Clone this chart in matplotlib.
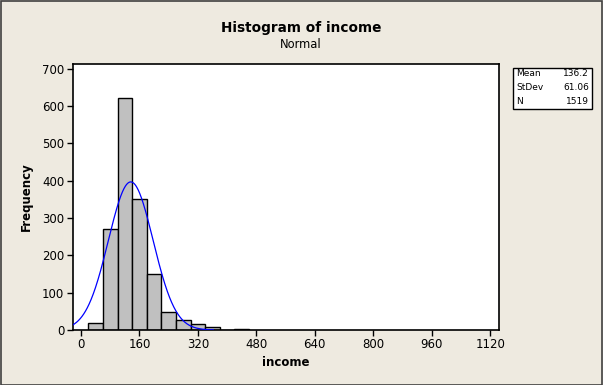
import numpy as np
import matplotlib
matplotlib.use('Agg')
import matplotlib.pyplot as plt
from matplotlib.patches import Rectangle

# Histogram counts (bins of width 40)
bin_edges = [20, 60, 100, 140, 180, 220, 260, 300, 340, 380, 420, 460]
counts = [20, 272, 622, 352, 150, 48, 28, 16, 8, 0, 3]
mean = 136.2
stdev = 61.06
n_obs = 1519
x_ticks = [0, 160, 320, 480, 640, 800, 960, 1120]
y_ticks = [0, 100, 200, 300, 400, 500, 600, 700]

bg = '#EEEAE0'
W, H = 603, 385

fig = plt.figure(figsize=(W / 100, H / 100), dpi=100, facecolor=bg)
ax = fig.add_axes([72.7 / W, 1 - 330 / H, (499.3 - 72.7) / W, (330 - 64) / H])
ax.set_facecolor('white')

widths = np.diff(bin_edges)
ax.bar(bin_edges[:-1], counts, width=widths, align='edge',
       color='#C0C0C0', edgecolor='black', linewidth=1.0, zorder=2)

# fitted normal curve, scaled to the counts
bw = 40
xs = np.linspace(-30, mean + 3.7 * stdev, 400)
ys = n_obs * bw / (stdev * np.sqrt(2 * np.pi)) * np.exp(-0.5 * ((xs - mean) / stdev) ** 2)
ax.plot(xs, ys, color='#0000FF', linewidth=0.9, zorder=3)

ax.set_xlim(-22.7, 1145)
ax.set_ylim(0, 713)
ax.set_xticks(x_ticks)
ax.set_yticks(y_ticks)
ax.tick_params(direction='out', length=4, width=1, labelsize=8.5, colors='black', pad=2)
for s in ax.spines.values():
    s.set_linewidth(1.2)

ax.set_xlabel('income', fontsize=8.5, fontweight='bold', labelpad=3)
ax.set_ylabel('Frequency', fontsize=8.5, fontweight='bold', labelpad=7)

fig.text(301 / W, 1 - 28 / H, 'Histogram of income', ha='center', va='center',
         fontsize=9.8, fontweight='bold')
fig.text(301 / W, 1 - 44 / H, 'Normal', ha='center', va='center', fontsize=8.3)

# stats box
box = Rectangle((512.7 / W, 1 - 109.3 / H), (592.3 - 512.7) / W, (109.3 - 68.3) / H,
                transform=fig.transFigure, facecolor='white', edgecolor='black', linewidth=1)
fig.patches.append(box)
rows = [('Mean', f'{mean}'), ('StDev', f'{stdev}'), ('N', f'{n_obs}')]
for i, (k, v) in enumerate(rows):
    yy = 1 - (74 + i * 14) / H
    fig.text(516 / W, yy, k, ha='left', va='center', fontsize=6.5)
    fig.text(589 / W, yy, v, ha='right', va='center', fontsize=6.5)

# window border
frame = Rectangle((0.5 / W, 0.5 / H), (W - 1.5) / W, (H - 1.5) / H, transform=fig.transFigure,
                  fill=False, edgecolor='#404040', linewidth=1.2)
fig.patches.append(frame)

fig.savefig('out.png', dpi=100, facecolor=bg)
